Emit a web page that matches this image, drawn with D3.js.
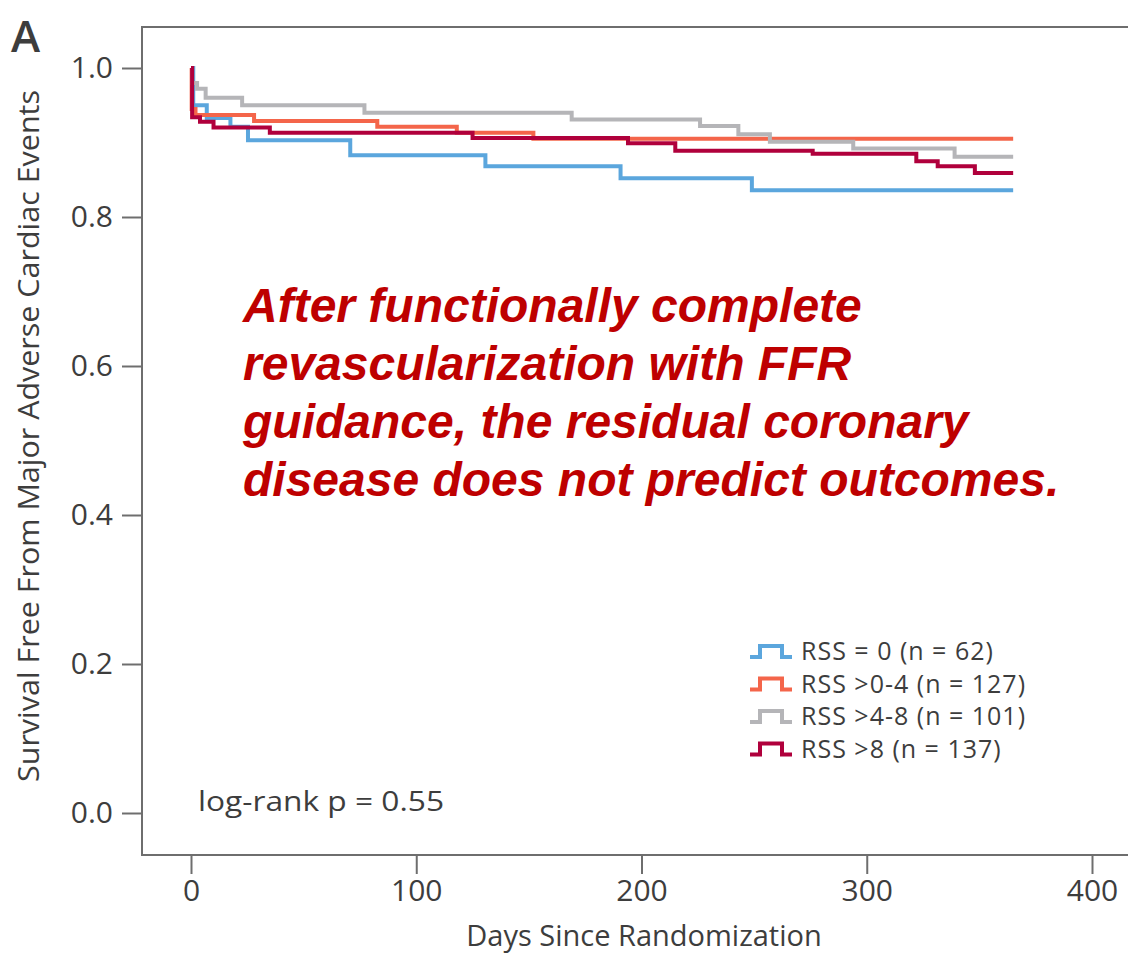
<!DOCTYPE html>
<html>
<head>
<meta charset="utf-8">
<script src="https://cdn.jsdelivr.net/npm/d3@7"></script>
<style>
  body { margin: 0; background: #fff; }
  svg text { font-family: "Open Sans", "Noto Sans", sans-serif; fill: #3d3d3d; }
</style>
</head>
<body>
<svg id="chart" width="1128" height="953"></svg>
<script>
// Kaplan-Meier steps (days, survival)
var days0 = [0, 1, 7, 17.5, 25.3, 70.7, 130.7, 190.7, 249, 365];
var surv0 = [1, 0.950, 0.933, 0.921, 0.903, 0.883, 0.868, 0.852, 0.836, 0.836];

var days1 = [0, 0.3, 2, 28, 82.7, 118, 152, 365];
var surv1 = [1, 0.945, 0.937, 0.929, 0.921, 0.913, 0.905, 0.905];

var days2 = [0, 0.5, 2.7, 6.5, 22.7, 77, 169, 226, 243, 257, 294, 339, 365];
var surv2 = [1, 0.980, 0.972, 0.960, 0.950, 0.940, 0.931, 0.922, 0.911, 0.901, 0.892, 0.881, 0.881];

var days3 = [0, 0.5, 4, 10, 35, 125, 194, 215, 276, 322, 331.5, 348, 365];
var surv3 = [1, 0.934, 0.928, 0.920, 0.913, 0.906, 0.899, 0.889, 0.885, 0.875, 0.868, 0.859, 0.859];

var groups = ['RSS = 0 (n = 62)', 'RSS >0-4 (n = 127)', 'RSS >4-8 (n = 101)', 'RSS >8 (n = 137)'];
var colors = ['#5ba6dd', '#f4654a', '#b5b5b8', '#b0003c'];

var xTicks = [0, 100, 200, 300, 400];
var yTicks = [0, 0.2, 0.4, 0.6, 0.8, 1.0];

var note = ['After functionally complete',
            'revascularization with FFR',
            'guidance, the residual coronary',
            'disease does not predict outcomes.'];

var series = [[days0, surv0], [days1, surv1], [days2, surv2], [days3, surv3]].map(function (s, i) {
    return { name: groups[i], color: colors[i], pts: s[0].map(function (d, j) { return [d, s[1][j]]; }) };
});

var svg = d3.select('#chart');

var x = d3.scaleLinear().domain([0, 400]).range([191, 1092]);
var y = d3.scaleLinear().domain([0, 1]).range([813, 68]);

// frame (right side runs off the picture)
svg.append('path')
   .attr('d', 'M1140,27H142V855H1140')
   .attr('fill', 'none')
   .attr('stroke', '#6e6e6e')
   .attr('stroke-width', 2);

var yAxis = svg.append('g')
   .attr('transform', 'translate(142,0)')
   .call(d3.axisLeft(y).tickValues(yTicks).tickFormat(d3.format('.1f')).tickSize(20).tickPadding(9));

var xAxis = svg.append('g')
   .attr('transform', 'translate(0,855)')
   .call(d3.axisBottom(x).tickValues(xTicks).tickFormat(d3.format('d')).tickSize(19).tickPadding(6));

[xAxis, yAxis].forEach(function (g) {
    g.select('.domain').remove();
    g.selectAll('line').attr('stroke', '#6e6e6e').attr('stroke-width', 2);
    g.selectAll('text').attr('font-size', 30).attr('fill', '#3d3d3d')
     .style('font-family', '"Open Sans", sans-serif');
});

// curves
var line = d3.line()
    .x(function (d) { return x(d[0]); })
    .y(function (d) { return y(d[1]); })
    .curve(d3.curveStepAfter);

svg.selectAll('.km').data(series).enter()
   .append('path')
   .attr('class', 'km')
   .attr('d', function (d) { return line(d.pts); })
   .attr('fill', 'none')
   .attr('stroke', function (d) { return d.color; })
   .attr('stroke-width', 4);

// legend
var legend = svg.append('g').attr('transform', 'translate(750,657)');
var item = legend.selectAll('g').data(series).enter()
   .append('g')
   .attr('transform', function (d, i) { return 'translate(0,' + (i * 32.5) + ')'; });
item.append('path')
   .attr('d', 'M0,0H10V-11H32V0H42')
   .attr('fill', 'none')
   .attr('stroke', function (d) { return d.color; })
   .attr('stroke-width', 4);
item.append('text')
   .attr('x', 51)
   .attr('y', 3)
   .attr('font-size', 25)
   .attr('letter-spacing', 1)
   .text(function (d) { return d.name; });

// texts
svg.append('text')
   .attr('x', 198)
   .attr('y', 811)
   .attr('font-size', 28)
   .attr('textLength', 246)
   .attr('lengthAdjust', 'spacingAndGlyphs')
   .text('log-rank p = 0.55');

svg.append('text')
   .attr('x', 644)
   .attr('y', 946)
   .attr('text-anchor', 'middle')
   .attr('font-size', 29)
   .text('Days Since Randomization');

svg.append('text')
   .attr('transform', 'translate(39,436) rotate(-90)')
   .attr('text-anchor', 'middle')
   .attr('font-size', 29)
   .attr('textLength', 692)
   .attr('lengthAdjust', 'spacingAndGlyphs')
   .text('Survival Free From Major Adverse Cardiac Events');

svg.append('text')
   .attr('x', 11)
   .attr('y', 52)
   .attr('font-size', 44)
   .attr('font-weight', 600)
   .text('A');

svg.append('g').selectAll('text').data(note).enter()
   .append('text')
   .attr('x', 243)
   .attr('y', function (d, i) { return 322 + i * 58; })
   .attr('font-size', 48)
   .attr('font-weight', 'bold')
   .attr('font-style', 'italic')
   .style('font-family', '"Liberation Sans", Arial, sans-serif')
   .style('fill', '#be0000')
   .text(function (d) { return d; });
</script>
</body>
</html>
